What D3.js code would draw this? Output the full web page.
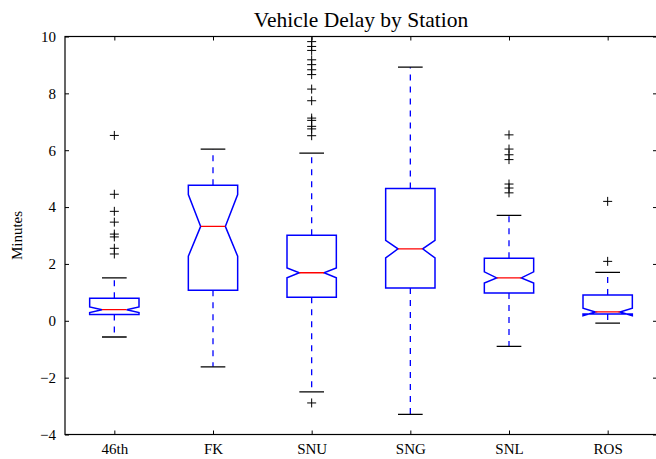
<!DOCTYPE html>
<html>
<head>
<meta charset="utf-8">
<script src="https://cdn.jsdelivr.net/npm/d3@7"></script>
<style>
  body { margin: 0; background: #fff; }
  svg text { font-family: "Liberation Serif", "DejaVu Serif", serif; fill: #000; }
</style>
</head>
<body>
<script>
var w = 656;
var h = 459;

/* data */
var stations = ["46th", "FK", "SNU", "SNG", "SNL", "ROS"];
var whiskLo = [-0.57, -1.62, -2.50, -3.29, -0.90, -0.08];
var q1      = [0.22, 1.07, 0.83, 1.15, 0.98, 0.24];
var notchLo = [0.29, 2.27, 1.51, 2.21, 1.33, 0.18];
var median  = [0.39, 3.32, 1.69, 2.53, 1.51, 0.31];
var notchHi = [0.49, 4.44, 1.86, 2.83, 1.72, 0.44];
var q3      = [0.79, 4.77, 3.01, 4.65, 2.20, 0.91];
var whiskHi = [1.51, 6.04, 5.90, 8.92, 3.71, 1.70];
var fliers  = [
    [6.52, 4.45, 3.85, 3.47, 3.05, 2.95, 2.55, 2.35],
    [],
    [-2.89, 6.51, 6.75, 6.84, 7.05, 7.13, 7.74, 8.15, 8.66, 8.83, 9.01, 9.18, 9.51, 9.65, 9.82, 10.2],
    [],
    [4.50, 4.67, 4.81, 5.67, 5.84, 6.04, 6.54],
    [2.09, 4.20]
];
var yTicks = [-4, -2, 0, 2, 4, 6, 8, 10];

var pLeft = 65, pRight = 657, pTop = 36.5, pBottom = 434.5;

var xScale = d3.scaleLinear().domain([0.5, 6.5]).range([pLeft, pRight]);
var yScale = d3.scaleLinear().domain([-4, 10]).range([pBottom, pTop]);

var svg = d3.select("body").append("svg")
    .attr("width", w)
    .attr("height", h);

svg.append("defs").append("clipPath").attr("id", "plotclip")
    .append("rect")
    .attr("x", pLeft).attr("y", pTop)
    .attr("width", pRight - pLeft).attr("height", pBottom - pTop);

var boxes = stations.map(function(s, i) {
    return {name: s, pos: i + 1, wl: whiskLo[i], q1: q1[i], nl: notchLo[i], med: median[i],
            nh: notchHi[i], q3: q3[i], wh: whiskHi[i], fl: fliers[i]};
});

var plot = svg.append("g").attr("clip-path", "url(#plotclip)");

var halfBox = 0.25, halfCap = 0.125;

var g = plot.selectAll("g.box")
    .data(boxes)
    .enter()
    .append("g")
    .attr("class", "box");

/* whiskers */
g.append("line")
    .attr("x1", function(d) { return xScale(d.pos); })
    .attr("x2", function(d) { return xScale(d.pos); })
    .attr("y1", function(d) { return yScale(d.q3); })
    .attr("y2", function(d) { return yScale(d.wh); })
    .attr("stroke", "#0000ff").attr("stroke-width", 1.3)
    .attr("stroke-dasharray", "6,6");
g.append("line")
    .attr("x1", function(d) { return xScale(d.pos); })
    .attr("x2", function(d) { return xScale(d.pos); })
    .attr("y1", function(d) { return yScale(d.q1); })
    .attr("y2", function(d) { return yScale(d.wl); })
    .attr("stroke", "#0000ff").attr("stroke-width", 1.3)
    .attr("stroke-dasharray", "6,6");

/* caps */
["wh", "wl"].forEach(function(k) {
    g.append("line")
        .attr("x1", function(d) { return xScale(d.pos - halfCap); })
        .attr("x2", function(d) { return xScale(d.pos + halfCap); })
        .attr("y1", function(d) { return yScale(d[k]); })
        .attr("y2", function(d) { return yScale(d[k]); })
        .attr("stroke", "#000").attr("stroke-width", 1.3);
});

/* notched box */
g.append("path")
    .attr("d", function(d) {
        var l = d.pos - halfBox, r = d.pos + halfBox;
        var li = d.pos - halfBox / 2, ri = d.pos + halfBox / 2;
        var pts = [[l, d.q1], [l, d.nl], [li, d.med], [l, d.nh], [l, d.q3],
                   [r, d.q3], [r, d.nh], [ri, d.med], [r, d.nl], [r, d.q1]];
        return d3.line()
            .x(function(p) { return xScale(p[0]); })
            .y(function(p) { return yScale(p[1]); })(pts) + "Z";
    })
    .attr("fill", "none")
    .attr("stroke", "#0000ff").attr("stroke-width", 1.5);

/* medians */
g.append("line")
    .attr("x1", function(d) { return xScale(d.pos - halfBox / 2); })
    .attr("x2", function(d) { return xScale(d.pos + halfBox / 2); })
    .attr("y1", function(d) { return yScale(d.med); })
    .attr("y2", function(d) { return yScale(d.med); })
    .attr("stroke", "#ff0000").attr("stroke-width", 1.3);

/* fliers as + markers */
g.selectAll("path.flier")
    .data(function(d) { return d.fl.map(function(v) { return {pos: d.pos, v: v}; }); })
    .enter()
    .append("path")
    .attr("class", "flier")
    .attr("d", function(d) {
        var cx = xScale(d.pos), cy = yScale(d.v), s = 4.5;
        return "M" + (cx - s) + "," + cy + "H" + (cx + s) + "M" + cx + "," + (cy - s) + "V" + (cy + s);
    })
    .attr("stroke", "#000").attr("stroke-width", 1);

/* frame */
svg.append("rect")
    .attr("x", pLeft).attr("y", pTop)
    .attr("width", pRight - pLeft).attr("height", pBottom - pTop)
    .attr("fill", "none").attr("stroke", "#000").attr("stroke-width", 1.2);

/* axes with inward ticks */
var yAxis = d3.axisLeft(yScale).tickValues(yTicks).tickSizeInner(-4).tickSizeOuter(0).tickPadding(9)
    .tickFormat(function(d) { return d < 0 ? "\u2212" + Math.abs(d) : d; });
var yAxisR = d3.axisRight(yScale).tickValues(yTicks).tickSizeInner(-4).tickSizeOuter(0).tickFormat("");
var xAxis = d3.axisBottom(xScale).tickValues([1, 2, 3, 4, 5, 6]).tickSizeInner(-4).tickSizeOuter(0).tickPadding(9)
    .tickFormat(function(d) { return stations[d - 1]; });
var xAxisT = d3.axisTop(xScale).tickValues([1, 2, 3, 4, 5, 6]).tickSizeInner(-4).tickSizeOuter(0).tickFormat("");

function styleAxis(sel) {
    sel.select(".domain").remove();
    sel.selectAll("text").attr("font-size", 15).attr("font-family", "Liberation Serif, serif");
    sel.selectAll("line").attr("stroke", "#000");
}

svg.append("g").attr("transform", "translate(" + pLeft + ",0)").call(yAxis).call(styleAxis);
svg.append("g").attr("transform", "translate(" + pRight + ",0)").call(yAxisR).call(styleAxis);
svg.append("g").attr("transform", "translate(0," + pBottom + ")").call(xAxis).call(styleAxis);
svg.append("g").attr("transform", "translate(0," + pTop + ")").call(xAxisT).call(styleAxis);

/* title and label */
svg.append("text")
    .attr("x", (pLeft + pRight) / 2)
    .attr("y", 27)
    .attr("text-anchor", "middle")
    .attr("font-size", 21.5)
    .text("Vehicle Delay by Station");

svg.append("text")
    .attr("transform", "translate(22," + ((pTop + pBottom) / 2) + ") rotate(-90)")
    .attr("text-anchor", "middle")
    .attr("font-size", 15)
    .text("Minutes");
</script>
</body>
</html>
